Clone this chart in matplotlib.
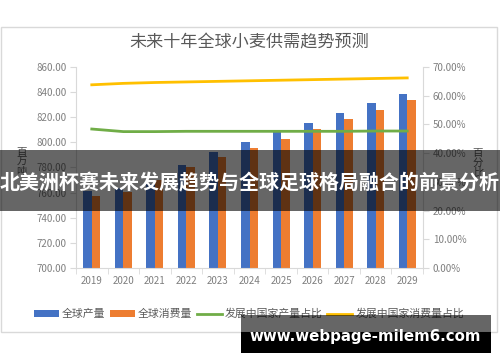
import matplotlib
matplotlib.use("Agg")
import matplotlib.pyplot as plt
from matplotlib.patches import Rectangle
from matplotlib.lines import Line2D
from matplotlib.patches import Patch
import numpy as np

plt.rcParams['font.family'] = ['Noto Sans CJK SC', 'DejaVu Sans']

years = ['2019', '2020', '2021', '2022', '2023', '2024', '2025', '2026', '2027', '2028', '2029']
production = [761, 764, 767, 782, 792, 800, 808, 815.5, 823, 831, 838.5]
consumption = [757, 760.5, 770, 780, 788, 795.5, 803, 811, 818.5, 826, 834]
dev_prod_share = [48.4, 47.5, 47.5, 47.6, 47.6, 47.6, 47.6, 47.6, 47.6, 47.7, 47.7]
dev_cons_share = [63.8, 64.3, 64.6, 64.8, 65.0, 65.2, 65.4, 65.6, 65.8, 66.0, 66.2]

title = '未来十年全球小麦供需趋势预测'
legend_labels = ['全球产量', '全球消费量', '发展中国家产量占比', '发展中国家消费量占比']
banner_text = '北美洲杯赛未来发展趋势与全球足球格局融合的前景分析'
watermark = 'www.webpage-milem6.com'

W, H = 500, 362
def fx(x): return x / W
def fy(y): return 1 - y / H

blue, orange, green, yellow = '#4472C4', '#ED7D31', '#70AD47', '#FFC000'
tick_c = '#7f7f7f'
spine_c = '#d9d9d9'

fig = plt.figure(figsize=(5, 3.62), dpi=100)
fig.patch.set_facecolor('white')

# chart border
fig.add_artist(Rectangle((fx(1), fy(332)), fx(497) - fx(1), fy(27) - fy(332),
                         transform=fig.transFigure, facecolor='white',
                         edgecolor='#d9d9d9', lw=1.0, zorder=0))

ax = fig.add_axes([fx(76), fy(268), fx(423) - fx(76), fy(67) - fy(268)])
ax.set_facecolor('none')
x = np.arange(len(years))
bw = 0.27
ax.bar(x - bw / 2, [p - 700 for p in production], bw, bottom=700, color=blue, zorder=2)
ax.bar(x + bw / 2, [c - 700 for c in consumption], bw, bottom=700, color=orange, zorder=2)
ax.set_ylim(700, 860)
ax.set_yticks(np.arange(700, 861, 20))
ax.set_yticklabels([f'{v:.2f}' for v in np.arange(700, 861, 20)])
ax.set_xlim(-0.5, len(years) - 0.5)
ax.set_xticks(x)
ax.set_xticklabels(years)
ax.set_xticks(np.arange(-0.5, len(years)), minor=True)
ax.tick_params(axis='x', which='major', length=0, pad=6, labelsize=7, colors=tick_c)
ax.tick_params(axis='x', which='minor', length=4, color=spine_c, direction='out')
ax.tick_params(axis='y', length=4, color=spine_c, labelsize=7, labelcolor=tick_c, pad=3)
for s in ['top', 'right']:
    ax.spines[s].set_visible(False)
for s in ['left', 'bottom']:
    ax.spines[s].set_color(spine_c)

ax2 = ax.twinx()
ax2.plot(x, dev_prod_share, color=green, lw=2.0, zorder=3)
ax2.plot(x, dev_cons_share, color=yellow, lw=2.0, zorder=3)
ax2.set_ylim(0, 70)
ax2.set_yticks(np.arange(0, 71, 10))
ax2.set_yticklabels([f'{v:.2f}%' for v in np.arange(0, 71, 10)])
ax2.tick_params(axis='y', length=4, color=spine_c, labelsize=7, labelcolor=tick_c, pad=3)
for s in ['top', 'left', 'bottom']:
    ax2.spines[s].set_visible(False)
ax2.spines['right'].set_color(spine_c)

fig.text(fx(249), fy(42), title, ha='center', va='center', fontsize=12.3, color='#595959')
fig.text(fx(21.5), fy(162), '百\n万\n吨', ha='center', va='center', fontsize=7.5,
         color='#595959', linespacing=0.95)
fig.text(fx(478), fy(163), '百\n分\n比', ha='center', va='center', fontsize=7.5,
         color='#595959', linespacing=0.95)

handles = [Patch(facecolor=blue), Patch(facecolor=orange),
           Line2D([], [], color=green, lw=2.0), Line2D([], [], color=yellow, lw=2.0)]
fig.legend(handles, legend_labels, loc='center', bbox_to_anchor=(fx(249), fy(314)),
           ncol=4, frameon=False, fontsize=7.8, labelcolor='#595959',
           handlelength=2.3, handleheight=0.6, handletextpad=0.3, columnspacing=0.4)

# banner
fig.add_artist(Rectangle((0, fy(211)), 1, fy(150) - fy(211), transform=fig.transFigure,
                         facecolor='black', alpha=0.6, edgecolor='none', zorder=10))
fig.text(0.5, fy(183), banner_text, ha='center', va='center', fontsize=14.4,
         fontweight='bold', color='white', zorder=11)

# watermark
fig.add_artist(Rectangle((fx(241), fy(332)), fx(491) - fx(241), fy(315) - fy(332),
                         transform=fig.transFigure, facecolor='black', alpha=0.6,
                         edgecolor='none', zorder=10))
fig.add_artist(Rectangle((fx(241), fy(353)), fx(491) - fx(241), fy(332) - fy(353),
                         transform=fig.transFigure, facecolor='black',
                         edgecolor='none', zorder=10))
fig.text(fx(365), fy(336), watermark, ha='center', va='center', fontsize=10.8,
         fontweight='bold', color='white', family=['DejaVu Sans'], zorder=11)

fig.savefig('out.png', dpi=100)
